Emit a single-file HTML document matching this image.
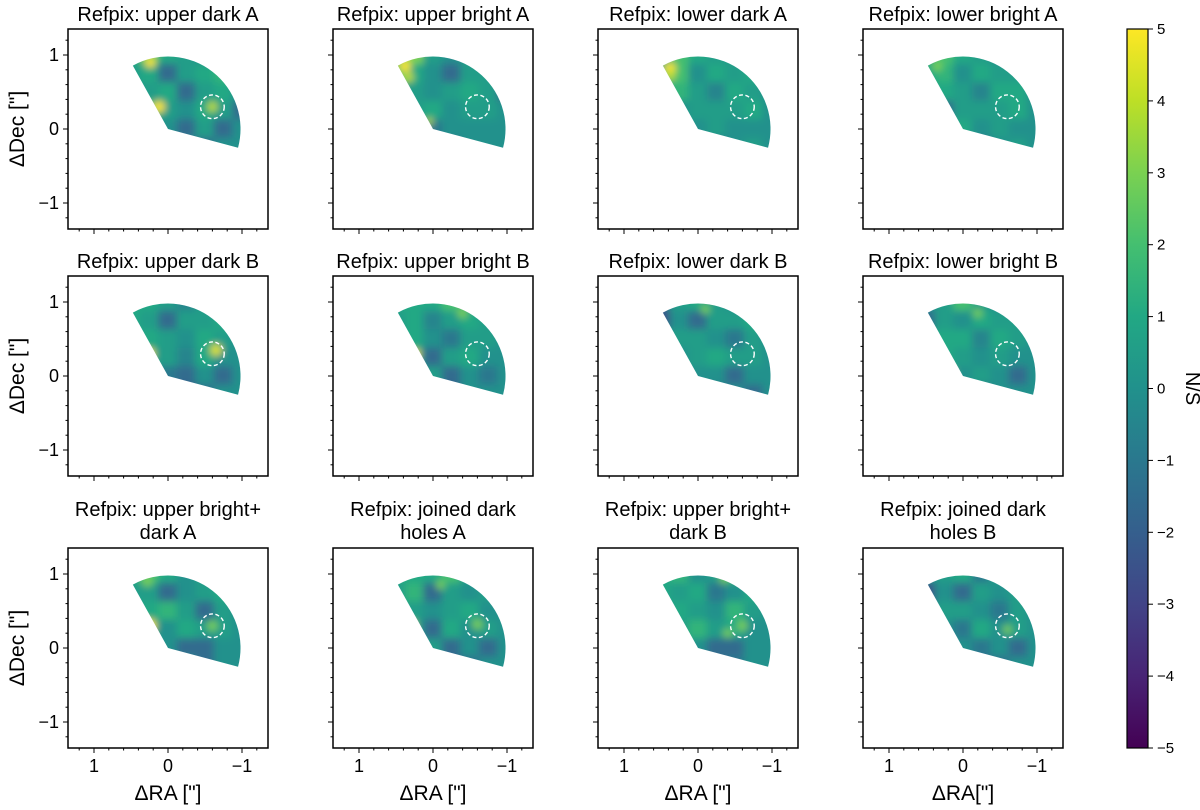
<!DOCTYPE html>
<html><head><meta charset="utf-8">
<style>
html,body{margin:0;padding:0;background:#fff;}
svg{display:block;font-family:"Liberation Sans",Arial,sans-serif;}
</style></head>
<body>
<svg id="fig" width="1200" height="810" viewBox="0 0 1200 810" xmlns="http://www.w3.org/2000/svg">
<defs>
<filter id="blur" x="-20%" y="-20%" width="140%" height="140%"><feGaussianBlur stdDeviation="3.8"/></filter>
<linearGradient id="cbgrad" x1="0" y1="1" x2="0" y2="0">
<stop offset="0" stop-color="#440154"/><stop offset="0.1" stop-color="#482475"/><stop offset="0.2" stop-color="#414487"/><stop offset="0.3" stop-color="#355f8d"/><stop offset="0.4" stop-color="#2a788e"/><stop offset="0.5" stop-color="#21918c"/><stop offset="0.6" stop-color="#22a884"/><stop offset="0.7" stop-color="#44bf70"/><stop offset="0.8" stop-color="#7ad151"/><stop offset="0.9" stop-color="#bddf26"/><stop offset="1" stop-color="#fde725"/>
</linearGradient>
</defs>
</svg>
<script>
// ---- data ----
const titles = [
 ["Refpix: upper dark A"],["Refpix: upper bright A"],["Refpix: lower dark A"],["Refpix: lower bright A"],
 ["Refpix: upper dark B"],["Refpix: upper bright B"],["Refpix: lower dark B"],["Refpix: lower bright B"],
 ["Refpix: upper bright+","dark A"],["Refpix: joined dark","holes A"],["Refpix: upper bright+","dark B"],["Refpix: joined dark","holes B"]
];
const gridRA = [0.5,0.25,0,-0.25,-0.5,-0.75,-1.0];
const gridDec = [1.0,0.75,0.5,0.25,0,-0.25];
const grids = [
 [[1,2.5,1,0.5,0,0,0],[0.5,1,-1.5,0.5,1,1.5,0],[0,0.5,1,-1.5,0.5,1,0],[1,1.5,0.5,0,1,0.5,-1.5],[0,0,0,-1.5,0.5,-1.5,0],[0,0,0,0,-1.5,0,0]],
 [[2,3,0.5,0,0.5,0,0],[2,1,0,-1.5,0.5,0.5,0],[1,0.5,0,0.5,1,0.5,-1.5],[-1.5,0.5,1,0,0.5,0.5,0],[0,0,-1,0,0,0,0],[0,0,-3.5,-1.5,0,0,0]],
 [[1,2,1,0.5,0.5,0,0],[1,2,0,1,0.5,1,0],[0.5,1.5,0.5,-0.5,1,0.5,0],[-3.5,0,0.5,0.5,0.5,1,0],[0,1,0,0.5,0,0,0],[0,0,-2.5,-1.5,0,0.5,0]],
 [[1,2,1,0.5,0,0,0],[1,1.5,0,1,0.5,0.5,0],[0.5,1,0.5,-0.5,1,1,0],[-3.5,-1.5,0.5,0.5,0.5,1,0],[0,0.5,1,0,0.5,0,0],[0,0,-2.5,-1.5,0,0.5,0]],
 [[1,1,0.5,-0.5,0.5,0,0],[1,0.5,-1.5,0.5,0.5,1,0],[0.5,1,0.5,0,1,0.5,0],[1,0.5,0.5,-0.5,1,0,0],[0,0,-1,-1.5,0,-1.5,0],[0,0,0,-2.5,-1.5,0,0]],
 [[1,1,1,2,0.5,0,0],[0.5,1,-0.5,0.5,1,0.5,0],[0.5,1,0,-1,0.5,0.5,0],[1,0.5,-1.5,0.5,1,0,0],[0,0,0.5,-1.5,0,-1,0],[0,0,-1.5,-2.5,0,0,0]],
 [[-1.5,0.5,1,0.5,0,0,0],[-2.5,0,-1.5,0.5,0.5,1,0],[0,0.5,0.5,0,-1,0.5,0],[0.5,0,0.5,1,0.5,0.5,0],[0,0,0,0,-1.5,0,0],[0,0,0,-1.5,0,-1.5,0]],
 [[0,0.5,2,0.5,0,0,0],[-1.5,0.5,0,1,0.5,0.5,0],[0.5,1,1,-0.5,1,0.5,0],[-1.5,1,0.5,0,0.5,0,0],[0,0,0,0.5,0,-1.5,0],[0,0,0,-1.5,0,0,0]],
 [[1,2,1,0,0.5,0,0],[0.5,0.5,-1.5,0,0.5,1,0],[0.5,1,1.5,0.5,-1.5,0.5,0],[0,0.5,0,1,0.5,0.5,0],[0,0,0,-1.5,-1.5,0,0],[0,0,0,0,-1.5,0,0]],
 [[1,1,1,2,0.5,0,0],[0.5,1.5,-1.5,0.5,0,0.5,0],[1,0.5,0,0.5,1,0,0],[0.5,0.5,-1.5,1,0,0.5,0],[0,0,0.5,-1.5,0,-1.5,0],[0,0,0,-2,-1.5,0,0]],
 [[1,1.5,0,0.5,1.5,0,0],[1,0.5,1,-1,0,1,0],[0.5,1,0.5,0,1.5,0.5,0],[-1.5,0.5,1.5,0.5,1,0,0],[0,1,0,-1.5,-1.5,0,0],[0,0,-1.5,-1.5,-1,0,0]],
 [[0,0.5,1,-1,0.5,0,0],[-2.5,0,-1.5,0.5,0,0.5,0],[-1.5,0.5,0.5,0,-1,0.5,0],[0.5,0,-1,1,0,0.5,0],[0,0.5,0,-1,0,-1.5,0],[0,0,0,-1.5,-1.5,0,0]]
];
// spots: [RA, Dec, value, radius]
const spots = [
 [[0.24,0.9,5,0.07],[0.12,0.3,5,0.08],[-0.6,0.3,4,0.07]],
 [[0.38,0.85,5,0.08],[0.33,0.7,4,0.07],[0.05,0.1,4,0.05]],
 [[0.38,0.82,5,0.08],[0.38,0.72,4,0.07]],
 [[0.35,0.85,3,0.07]],
 [[0.25,0.3,5,0.07],[-0.65,0.35,4.5,0.08]],
 [[0.23,0.3,5,0.06],[-0.4,0.85,3,0.07]],
 [[-0.1,0.9,3,0.06]],
 [[-0.2,0.85,3,0.06],[0.15,0.05,4,0.04]],
 [[0.28,0.9,3,0.07],[0.25,0.3,5,0.09],[-0.6,0.3,3,0.07]],
 [[0.3,0.3,4.5,0.07],[-0.1,0.85,3,0.06],[-0.6,0.32,3,0.07]],
 [[-0.35,0.93,3,0.06],[-0.6,0.3,3,0.07],[-0.4,0.2,3,0.06]],
 [[-0.6,0.25,3,0.06]]
];
const yTicks = [-1,0,1];
const xTicks = [1,0,-1];
const cbTicks = [-5,-4,-3,-2,-1,0,1,2,3,4,5];

// ---- layout ----
const NS = "http://www.w3.org/2000/svg";
const svg = document.getElementById('fig');
const colLeft = [68,333,598,863];
const rowTop = [29,276,548];
const SIZE = 200, PPU = 74;
const vir = ["#440154","#482475","#414487","#355f8d","#2a788e","#21918c","#22a884","#44bf70","#7ad151","#bddf26","#fde725"];
function hex(c){return [parseInt(c.slice(1,3),16),parseInt(c.slice(3,5),16),parseInt(c.slice(5,7),16)];}
function viridis(v){
  let t=Math.max(0,Math.min(1,(v+5)/10))*10; let i=Math.min(9,Math.floor(t)); let f=t-i;
  const a=hex(vir[i]), b=hex(vir[i+1]);
  return "rgb("+a.map((x,k)=>Math.round(x+(b[k]-x)*f)).join(",")+")";
}
function el(tag,attrs,parent){const e=document.createElementNS(NS,tag);for(const k in attrs)e.setAttribute(k,attrs[k]);(parent||svg).appendChild(e);return e;}

for(let p=0;p<12;p++){
  const r=Math.floor(p/4), c=p%4;
  const L=colLeft[c], T=rowTop[r];
  const cx=L+SIZE/2, cy=T+SIZE/2;
  const sx=ra=>cx-ra*PPU, sy=dec=>cy-dec*PPU;
  const g=el('g',{});
  
  
  const R=0.98*PPU, a1=-15*Math.PI/180, a2=119*Math.PI/180;
  const d=`M${cx},${cy} L${cx+R*Math.cos(a1)},${cy-R*Math.sin(a1)} A${R},${R} 0 0 0 ${cx+R*Math.cos(a2)},${cy-R*Math.sin(a2)} Z`;
  const cp=el('clipPath',{id:'clip'+p},g);
  el('path',{d:d},cp);
  const img=el('g',{'clip-path':'url(#clip'+p+')'},g);
  
  
  const bl=el('g',{filter:'url(#blur)'},img);
  const cell=0.25*PPU;
  for(let i=0;i<gridDec.length;i++)for(let j=0;j<gridRA.length;j++){
    const rc=el('rect',{x:sx(gridRA[j])-cell/2-0.5,y:sy(gridDec[i])-cell/2-0.5,width:cell+1,height:cell+1,fill:viridis(grids[p][i][j])},bl);
    
    
  }
  for(const s of spots[p]){
    const e=el('circle',{cx:sx(s[0]),cy:sy(s[1]),r:s[3]*PPU,fill:viridis(s[2])},bl);
    
    
  }
  const pc=el('circle',{cx:sx(-0.6),cy:sy(0.3),r:0.16*PPU,fill:'none',stroke:'#fff','stroke-width':1.4,'stroke-dasharray':'4,2.5'},g);
  
  
  const fr=el('rect',{x:L,y:T,width:SIZE,height:SIZE,fill:'none',stroke:'#000','stroke-width':1.5},g);
  
  
  for(let k=-6;k<=6;k++){
    const v=k*0.2, major=(k%5===0);
    const len=major?5:2.5;
    el('line',{x1:L,x2:L-len,y1:sy(v),y2:sy(v),stroke:'#000','stroke-width':1},g);
    el('line',{x1:sx(v),x2:sx(v),y1:T+SIZE,y2:T+SIZE+len,stroke:'#000','stroke-width':1},g);
  }
  const tl=titles[p];
  const tt=el('text',{x:cx,'text-anchor':'middle','font-size':20,fill:'#000'},g);
  
  
  if(tl.length===1){tt.setAttribute('y',T-8);tt.textContent=tl[0];}
  else{tl.forEach((s,k)=>{const ts=el('tspan',{x:cx,y:T-32+k*23},tt);ts.textContent=s;});}
  if(c===0){
    for(const v of yTicks){
      const t=el('text',{x:L-9,y:sy(v)+6,'text-anchor':'end','font-size':18},g);
      
      
      t.textContent=v<0?'\u2212'+(-v):String(v);
    }
    const yl=el('text',{x:0,y:0,'text-anchor':'middle','font-size':21,transform:`translate(24,${cy}) rotate(-90)`},g);
    
    
    yl.textContent='\u0394Dec ["]';
  }
  if(r===2){
    for(const v of xTicks){
      const t=el('text',{x:sx(v),y:T+SIZE+24,'text-anchor':'middle','font-size':18},g);
      
      
      t.textContent=v<0?'\u2212'+(-v):String(v);
    }
    const xl=el('text',{x:cx,y:T+SIZE+52,'text-anchor':'middle','font-size':21},g);
    
    
    xl.textContent=c===3?'\u0394RA["]':'\u0394RA ["]';
  }
}
const cbX=1127, cbW=21, cbT=29, cbB=748;
const cb=el('g',{});


el('rect',{x:cbX,y:cbT,width:cbW,height:cbB-cbT,fill:'url(#cbgrad)',stroke:'#000','stroke-width':1.2},cb);
for(const v of cbTicks){
  const y=cbB-(v+5)/10*(cbB-cbT);
  el('line',{x1:cbX+cbW,x2:cbX+cbW+5,y1:y,y2:y,stroke:'#000','stroke-width':1},cb);
  const t=el('text',{x:cbX+cbW+9,y:y+5,'font-size':15},cb);
  
  
  t.textContent=v<0?'\u2212'+(-v):String(v);
}
const cl=el('text',{x:0,y:0,'text-anchor':'middle','font-size':20,transform:`translate(1186,${(cbT+cbB)/2}) rotate(90)`},cb);


cl.textContent='N/S';
</script>
</body></html>
